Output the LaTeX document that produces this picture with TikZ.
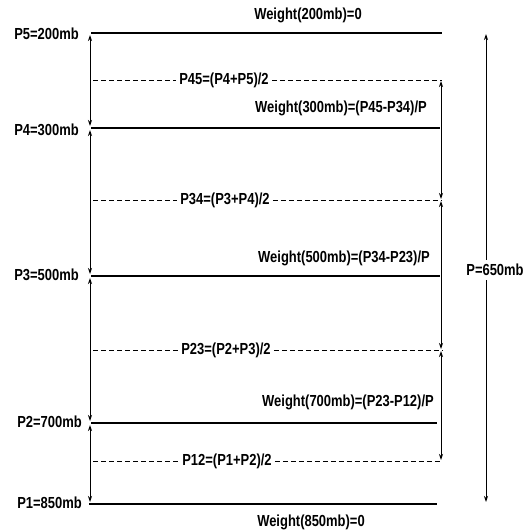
\documentclass[tikz,border=0pt]{standalone}
\usepackage{fontspec}
\setmainfont{Liberation Sans}[FakeStretch=0.81]
\usetikzlibrary{arrows.meta}
\begin{document}
\begin{tikzpicture}[x=1pt,y=-1pt,
  lvl/.style={line width=1.8pt},
  mid/.style={line width=0.9pt, dash pattern=on 5pt off 3pt},
  dim/.style={line width=0.9pt,{Stealth[length=6pt,width=4pt]}-{Stealth[length=6pt,width=4pt]}},
  one/.style={line width=0.9pt,-{Stealth[length=6pt,width=4pt]}},
  lbl/.style={font=\bfseries\fontsize{16}{18}\selectfont, inner sep=1pt},
  mlbl/.style={lbl, inner sep=3pt},
]
\useasboundingbox (0,0) rectangle (531,531);
% pressure levels
\coordinate (L5) at (91,33);  \coordinate (R5) at (442,33);
\coordinate (L4) at (91,128); \coordinate (R4) at (440,128);
\coordinate (L3) at (91,276); \coordinate (R3) at (440,276);
\coordinate (L2) at (91,423); \coordinate (R2) at (437,423);
\coordinate (L1) at (89,504); \coordinate (R1) at (437,504);
\draw[lvl] (L5) -- (R5);
\draw[lvl] (L4) -- (R4);
\draw[lvl] (L3) -- (R3);
\draw[lvl] (L2) -- (R2);
\draw[lvl] (L1) -- (R1);
% level labels
\node[lbl, anchor=east] (p5) at (80,34)  {P5=200mb};
\node[lbl, anchor=east] (p4) at (80,130) {P4=300mb};
\node[lbl, anchor=east] (p3) at (80,275) {P3=500mb};
\node[lbl, anchor=east] (p2) at (83,422) {P2=700mb};
\node[lbl, anchor=east] (p1) at (83,503) {P1=850mb};
% weights
\node[lbl] (w200) at (308,15)  {Weight(200mb)=0};
\node[lbl] (w300) at (341,108) {Weight(300mb)=(P45-P34)/P};
\node[lbl] (w500) at (344,258) {Weight(500mb)=(P34-P23)/P};
\node[lbl] (w700) at (348,402) {Weight(700mb)=(P23-P12)/P};
\node[lbl] (w850) at (311,522) {Weight(850mb)=0};
% mid levels
\coordinate (M45L) at (93,80);  \coordinate (M45R) at (442,80);
\coordinate (M34L) at (93,200); \coordinate (M34R) at (442,200);
\coordinate (M23L) at (93,350); \coordinate (M23R) at (442,350);
\coordinate (M12L) at (93,461); \coordinate (M12R) at (442,461);
\node[mlbl] (m45) at (224,80)  {P45=(P4+P5)/2};
\node[mlbl] (m34) at (225,200) {P34=(P3+P4)/2};
\node[mlbl] (m23) at (226,350) {P23=(P2+P3)/2};
\node[mlbl] (m12) at (227,461) {P12=(P1+P2)/2};
\draw[mid] (M45L) -- (m45.west) (m45.east) -- (M45R);
\draw[mid] (M34L) -- (m34.west) (m34.east) -- (M34R);
\draw[mid] (M23L) -- (m23.west) (m23.east) -- (M23R);
\draw[mid] (M12L) -- (m12.west) (m12.east) -- (M12R);
% left dimension arrows
\coordinate (A5) at (90,33);  \coordinate (A4) at (90,128);
\coordinate (A3) at (90,276); \coordinate (A2) at (90,423);
\coordinate (A1) at (90,504);
\draw[dim, shorten <=2pt, shorten >=2pt] (A5) -- (A4);
\draw[dim, shorten <=2pt, shorten >=2pt] (A4) -- (A3);
\draw[dim, shorten <=2pt, shorten >=2pt] (A3) -- (A2);
\draw[dim, shorten <=2pt, shorten >=2pt] (A2) -- (A1);
% right dimension arrows
\coordinate (B45) at (441,80);  \coordinate (B34) at (441,200);
\coordinate (B23) at (441,350); \coordinate (B12) at (441,461);
\draw[dim, shorten <=1pt, shorten >=1pt] (B45) -- (B34);
\draw[dim, shorten <=1pt, shorten >=1pt] (B34) -- (B23);
\draw[dim, shorten <=1pt, shorten >=1pt] (B23) -- (B12);
% total pressure
\coordinate (Ttop) at (486,34); \coordinate (Tbot) at (486,502);
\node[lbl, inner sep=4pt] (ptot) at (495,270) {P=650mb};
\draw[one] (Ttop |- ptot.north) -- (Ttop);
\draw[one] (Tbot |- ptot.south) -- (Tbot);
\end{tikzpicture}
\end{document}
